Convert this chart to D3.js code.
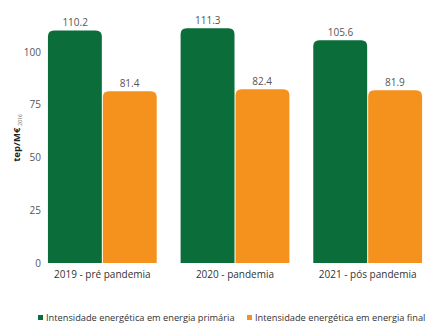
<!DOCTYPE html>
<html lang="pt">
<head>
<meta charset="UTF-8">
<title>Intensidade energética</title>
<script src="https://d3js.org/d3.v7.min.js"></script>
<style>
  body { margin: 0; background: #fff; }
  text { font-family: "Open Sans", "Noto Sans", sans-serif; }
</style>
</head>
<body>
<svg id="chart" width="436" height="327"></svg>
<script>
const categories = ["2019 - pré pandemia", "2020 - pandemia", "2021 - pós pandemia"];
const seriesNames = ["Intensidade energética em energia primária", "Intensidade energética em energia final"];
const primaria = [110.2, 111.3, 105.6];
const final = [81.4, 82.4, 81.9];
const yTicks = [0, 25, 50, 75, 100];
const colors = ["#0b6e3a", "#f5921e"];

const svg = d3.select("#chart");
const baseY = 263, topY = 52; // 0 and 100

const x = d3.scaleBand().domain(categories).range([36, 434]).paddingInner(0.18).paddingOuter(0.09);
const xs = d3.scaleBand().domain([0, 1]).range([0, x.bandwidth()]);
const y = d3.scaleLinear().domain([0, 100]).range([baseY, topY]);

// y axis labels
svg.append("g").selectAll("text").data(yTicks).join("text")
  .attr("x", 41).attr("y", d => y(d)).attr("dy", "0.35em")
  .attr("text-anchor", "end").attr("font-size", 10).attr("fill", "#555")
  .text(d => d);

// y title
const yt = svg.append("text")
  .attr("transform", "translate(20,138) rotate(-90)")
  .attr("text-anchor", "middle").attr("fill", "#222");
yt.append("tspan").attr("font-size", 9.5).attr("font-weight", "bold").text("tep/M€");
yt.append("tspan").attr("font-size", 5).attr("fill", "#666").attr("dx", 2).attr("dy", 2).text("2016");

function topRounded(x0, y0, w, h, r) {
  r = Math.min(r, h, w / 2);
  return `M${x0},${y0 + h}V${y0 + r}Q${x0},${y0} ${x0 + r},${y0}H${x0 + w - r}Q${x0 + w},${y0} ${x0 + w},${y0 + r}V${y0 + h}Z`;
}

const rows = categories.map((c, i) => ({ c, vals: [primaria[i], final[i]] }));
const groups = svg.append("g").selectAll("g").data(rows).join("g")
  .attr("transform", d => `translate(${x(d.c)},0)`);

groups.each(function(d) {
  const g = d3.select(this);
  d.vals.forEach((v, j) => {
    const bx = xs(j) + (j === 1 ? 0.5 : 0);
    const bw = xs.bandwidth() - 0.5;
    g.append("path")
      .attr("d", topRounded(bx, y(v), bw, y(0) - y(v), 6))
      .attr("fill", colors[j]);
    g.append("text")
      .attr("x", xs(j) + xs.bandwidth() / 2).attr("y", y(v) - 4)
      .attr("text-anchor", "middle").attr("font-size", 10).attr("fill", "#555")
      .text(v.toFixed(1));
  });
  g.append("text")
    .attr("x", x.bandwidth() / 2).attr("y", baseY + 15)
    .attr("text-anchor", "middle").attr("font-size", 10).attr("fill", "#333")
    .text(d.c);
});

// legend
const legendX = [38, 247];
seriesNames.forEach((s, i) => {
  svg.append("rect").attr("x", legendX[i]).attr("y", 315).attr("width", 5).attr("height", 5).attr("fill", colors[i]);
  svg.append("text").attr("x", legendX[i] + 8).attr("y", 318).attr("dy", "0.35em")
    .attr("font-size", 9.25).attr("fill", "#333").text(s);
});
</script>
</body>
</html>
